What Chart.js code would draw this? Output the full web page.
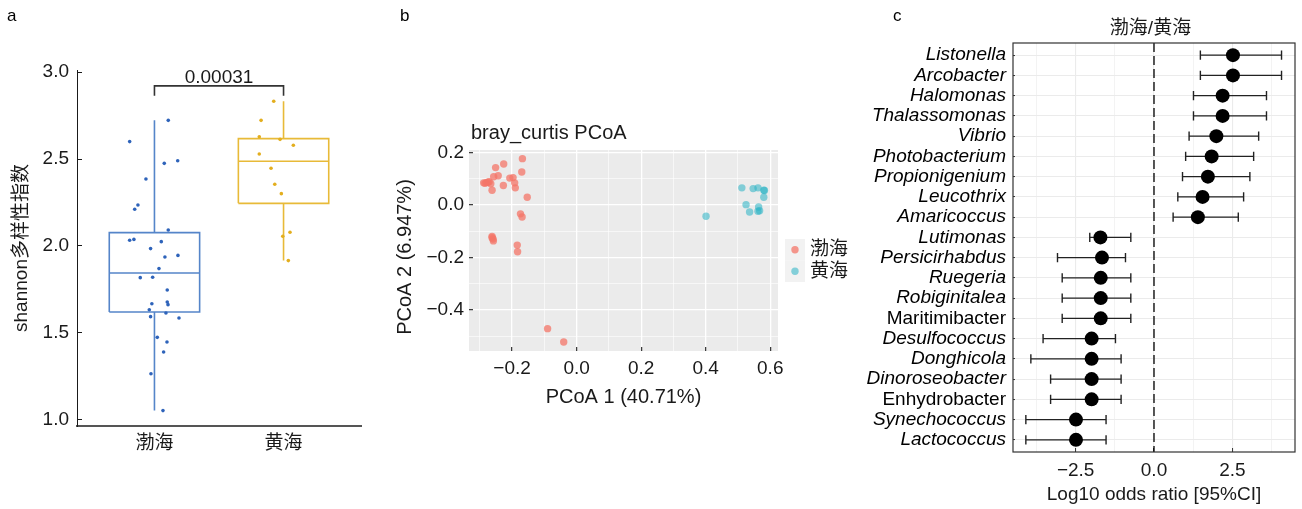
<!DOCTYPE html>
<html><head><meta charset="utf-8">
<script src="https://cdn.jsdelivr.net/npm/chart.js@4/dist/chart.umd.min.js"></script>
<style>
body{margin:0;background:#fff;width:1302px;height:509px;overflow:hidden;position:relative;}
canvas{position:absolute;top:0;}
</style></head><body>
<canvas id="ca" width="380" height="509" style="left:0px"></canvas>
<canvas id="cb" width="470" height="509" style="left:380px"></canvas>
<canvas id="cc" width="452" height="509" style="left:850px"></canvas>
<script>
// ---------- Panel a data ----------
const shannonGroups = ['渤海', '黄海'];
const shannonTicks = [1.0, 1.5, 2.0, 2.5, 3.0];
const bohaiShannon = [2.722,2.600,2.475,2.490,2.385,2.236,2.211,2.092,2.033,2.038,2.025,1.985,1.937,1.946,1.870,1.818,1.820,1.747,1.678,1.663,1.668,1.634,1.594,1.615,1.586,1.475,1.448,1.391,1.266,1.054];
const bohaiJitter = [0.107,-0.192,0.076,0.18,-0.066,-0.128,-0.153,0.107,-0.192,-0.159,0.053,-0.03,0.081,0.182,0.035,-0.11,-0.014,0.099,0.099,0.105,-0.02,-0.04,-0.03,0.089,0.19,0.022,0.097,0.071,-0.027,0.066];
const huanghaiShannon = [2.832,2.722,2.628,2.613,2.579,2.529,2.447,2.355,2.301,2.079,2.056,1.916];
const huanghaiJitter = [-0.076,-0.174,-0.188,-0.027,0.076,-0.188,-0.097,-0.068,-0.017,0.05,-0.006,0.037];
// box stats: [min, q1, median, q3, max]
const bohaiBox = [1.054, 1.621, 1.845, 2.077, 2.722];
const huanghaiBox = [1.916, 2.245, 2.487, 2.617, 2.832];
const pValueLabel = '0.00031';
const bracketY = 2.92, bracketLegY = 2.864;

// ---------- Panel b data ----------
const pcoaGroups = ['渤海', '黄海'];
const pcoaXTicks = [-0.3,-0.2,-0.1,0.0,0.1,0.2,0.3,0.4,0.5,0.6];
const pcoaYTicks = [-0.5,-0.4,-0.3,-0.2,-0.1,0.0,0.1,0.2];
const pcoaBohaiX = [-0.288,-0.280,-0.271,-0.266,-0.262,-0.251,-0.226,-0.243,-0.257,-0.227,-0.207,-0.197,-0.192,-0.190,-0.168,-0.170,-0.153,-0.174,-0.169,-0.262,-0.259,-0.258,-0.184,-0.183,-0.090,-0.040,-0.284,-0.275,-0.262];
const pcoaBohaiY = [0.084,0.085,0.088,0.081,0.056,0.142,0.156,0.111,0.107,0.074,0.102,0.104,0.084,0.065,0.176,0.125,0.029,-0.034,-0.046,-0.120,-0.130,-0.137,-0.153,-0.178,-0.471,-0.522,0.082,0.086,-0.125];
const pcoaHuanghaiX = [0.401,0.512,0.547,0.562,0.580,0.582,0.580,0.525,0.536,0.564,0.562,0.567];
const pcoaHuanghaiY = [-0.043,0.065,0.062,0.065,0.056,0.055,0.029,0.001,-0.027,-0.008,-0.024,-0.022];

// ---------- Panel c data ----------
const genera = ['Listonella','Arcobacter','Halomonas','Thalassomonas','Vibrio','Photobacterium','Propionigenium','Leucothrix','Amaricoccus','Lutimonas','Persicirhabdus','Ruegeria','Robiginitalea','Maritimibacter','Desulfococcus','Donghicola','Dinoroseobacter','Enhydrobacter','Synechococcus','Lactococcus'];
const uprightGenera = ['Maritimibacter', 'Enhydrobacter'];
const logOdds = [2.52,2.52,2.19,2.19,1.99,1.84,1.72,1.55,1.40,-1.71,-1.66,-1.70,-1.70,-1.70,-1.99,-1.99,-1.99,-1.99,-2.49,-2.49];
const ciLow  = [1.48,1.48,1.26,1.26,1.12,1.01,0.91,0.76,0.61,-2.05,-3.08,-2.93,-2.93,-2.93,-3.54,-3.93,-3.30,-3.30,-4.09,-4.09];
const ciHigh = [4.07,4.07,3.59,3.59,3.34,3.18,3.06,2.86,2.69,-0.74,-0.91,-0.74,-0.74,-0.74,-1.23,-1.05,-1.05,-1.05,-1.53,-1.53];
const forestTicks = [-3.75,-2.5,-1.25,0,1.25,2.5,3.75];
const forestTitle = '渤海/黄海';

// ---------- common ----------
const FONT = '"Liberation Sans", Arial, "Noto Sans CJK SC", sans-serif';
Chart.defaults.font.family = FONT;
Chart.defaults.font.size = 19;
Chart.defaults.color = '#1a1a1a';
Chart.defaults.animation = false;
Chart.defaults.plugins.legend.display = false;
Chart.defaults.plugins.tooltip.enabled = false;
const fmtMinus = v => v.toFixed(1).replace('-', '\u2212');

function panelLetter(letter, x) {
  return { id: 'letter' + letter, afterDraw(chart) {
    const ctx = chart.ctx; ctx.save();
    ctx.font = '17px ' + FONT; ctx.fillStyle = '#000'; ctx.textAlign = 'left'; ctx.textBaseline = 'alphabetic';
    ctx.fillText(letter, x, 21); ctx.restore();
  }};
}

// ---------- Panel a ----------
const boxHalf = 0.35;
function boxPath(c, s) {
  return [
    {x:c-boxHalf,y:s[1]},{x:c+boxHalf,y:s[1]},{x:c+boxHalf,y:s[3]},{x:c-boxHalf,y:s[3]},{x:c-boxHalf,y:s[1]},
    {x:c,y:null},
    {x:c-boxHalf,y:s[2]},{x:c+boxHalf,y:s[2]},
    {x:c,y:null},
    {x:c,y:s[3]},{x:c,y:s[4]},
    {x:c,y:null},
    {x:c,y:s[1]},{x:c,y:s[0]}
  ];
}
const pvalPlugin = { id:'pval', afterDatasetsDraw(chart) {
  const {ctx, scales:{x, y}} = chart; ctx.save();
  ctx.font = '19px ' + FONT; ctx.fillStyle = '#1a1a1a'; ctx.textAlign = 'center'; ctx.textBaseline = 'alphabetic';
  ctx.fillText(pValueLabel, x.getPixelForValue(1.5), y.getPixelForValue(bracketY) - 3);
  ctx.restore();
}};
new Chart(document.getElementById('ca'), {
  type: 'scatter',
  data: { datasets: [
    { data: bohaiShannon.map((v,i)=>({x:1+bohaiJitter[i], y:v})), pointRadius:1.8, backgroundColor:'#2E63BA', borderWidth:0 },
    { data: huanghaiShannon.map((v,i)=>({x:2+huanghaiJitter[i], y:v})), pointRadius:1.8, backgroundColor:'#E3AE1E', borderWidth:0 },
    { data: boxPath(1, bohaiBox), showLine:true, spanGaps:false, borderColor:'#5585C9', borderWidth:1.6, pointRadius:0, borderJoinStyle:'miter' },
    { data: boxPath(2, huanghaiBox), showLine:true, spanGaps:false, borderColor:'#E8BA38', borderWidth:1.6, pointRadius:0, borderJoinStyle:'miter' },
    { data: [{x:1,y:bracketLegY},{x:1,y:bracketY},{x:2,y:bracketY},{x:2,y:bracketLegY}], showLine:true, borderColor:'#333', borderWidth:1.6, pointRadius:0 }
  ]},
  options: {
    responsive:false, devicePixelRatio:1,
    layout: { padding: { top:70, right:19, bottom:43, left:0 } },
    scales: {
      x: { type:'linear', min:0.4, max:2.6,
        afterBuildTicks: s => { s.ticks = shannonGroups.map((g,i)=>({value:i+1})); },
        afterFit: s => { s.height = 40; },
        ticks: { callback: v => shannonGroups[Math.round(v)-1], padding:6, color:'#1a1a1a', autoSkip:false },
        grid: { drawOnChartArea:false, drawTicks:false },
        border: { display:true, color:'#555', width:2 } },
      y: { type:'linear', min:0.9655, max:3.0115,
        afterBuildTicks: s => { s.ticks = shannonTicks.map(v=>({value:v})); },
        afterFit: s => { s.width = 77; },
        ticks: { callback: v => v.toFixed(1), padding:13, color:'#1a1a1a', autoSkip:false },
        grid: { drawOnChartArea:false, drawTicks:true, tickLength:-5, tickColor:'#1a1a1a', tickWidth:1 },
        border: { display:true, color:'#1a1a1a', width:1 },
        title: { display:true, text:'shannon多样性指数', padding:{top:10,bottom:0}, color:'#1a1a1a' } }
    }
  },
  plugins: [pvalPlugin, panelLetter('a', 7)]
});

// ---------- Panel b ----------
const isEven10 = v => Math.abs(Math.round(v*10)) % 2 === 0;
const pcoaRed = 'rgba(244,118,104,0.75)', pcoaTeal = 'rgba(40,178,196,0.55)';
const pcoaDeco = { id:'pcoaDeco',
  beforeDraw(chart) {
    const {ctx, chartArea:a} = chart; ctx.save(); ctx.fillStyle = '#EBEBEB';
    ctx.fillRect(a.left, a.top, a.right-a.left, a.bottom-a.top); ctx.restore();
  },
  afterDraw(chart) {
    const {ctx, chartArea:a} = chart; ctx.save();
    ctx.fillStyle = '#1a1a1a';
    ctx.font = '20px ' + FONT; ctx.textAlign = 'left'; ctx.textBaseline = 'alphabetic';
    ctx.fillText('bray_curtis PCoA', a.left + 2, 139);
    ctx.translate(25, 257); ctx.rotate(-Math.PI/2); ctx.textAlign = 'center'; ctx.textBaseline = 'middle';
    ctx.fillText('PCoA 2 (6.947%)', 0, 0);
    ctx.restore();
    // legend
    ctx.save();
    const cols = [pcoaRed, pcoaTeal];
    pcoaGroups.forEach((g,i) => {
      const ky = 239 + i*21.5;
      ctx.fillStyle = '#F2F2F2'; ctx.fillRect(405, ky, 20, 21.5);
      ctx.fillStyle = cols[i]; ctx.beginPath(); ctx.arc(415, ky+10.75, 3.7, 0, Math.PI*2); ctx.fill();
      ctx.fillStyle = '#1a1a1a'; ctx.font = '19px ' + FONT; ctx.textAlign='left'; ctx.textBaseline='middle';
      ctx.fillText(g, 430, ky+11);
    });
    ctx.restore();
  }
};
new Chart(document.getElementById('cb'), {
  type: 'scatter',
  data: { datasets: [
    { label: pcoaGroups[0], data: pcoaBohaiX.map((v,i)=>({x:v, y:pcoaBohaiY[i]})), pointRadius:3.7, backgroundColor:pcoaRed, borderWidth:0 },
    { label: pcoaGroups[1], data: pcoaHuanghaiX.map((v,i)=>({x:v, y:pcoaHuanghaiY[i]})), pointRadius:3.7, backgroundColor:pcoaTeal, borderWidth:0 }
  ]},
  options: {
    responsive:false, devicePixelRatio:1,
    layout: { padding: { top:150, right:72, bottom:100, left:0 } },
    scales: {
      x: { type:'linear', min:-0.3335, max:0.624,
        afterBuildTicks: s => { s.ticks = pcoaXTicks.map(v=>({value:v})); },
        afterFit: s => { s.height = 58; },
        ticks: { callback: v => isEven10(v) ? fmtMinus(v) : '', padding:10, color:'#1a1a1a', autoSkip:false, maxRotation:0 },
        grid: { color:'#fff', lineWidth: c => isEven10(c.tick.value) ? 1.3 : 0.6, tickLength:-4,
                tickColor: c => isEven10(c.tick.value) ? '#333' : 'rgba(0,0,0,0)', tickWidth:1.2 },
        border: { display:false },
        title: { display:true, text:'PCoA 1 (40.71%)', font:{size:20}, padding:{top:0,bottom:0}, color:'#1a1a1a' } },
      y: { type:'linear', min:-0.556, max:0.209,
        afterBuildTicks: s => { s.ticks = pcoaYTicks.map(v=>({value:v})); },
        afterFit: s => { s.width = 89; },
        ticks: { callback: v => isEven10(v) ? fmtMinus(v) : '', padding:9, color:'#1a1a1a', autoSkip:false },
        grid: { color:'#fff', lineWidth: c => isEven10(c.tick.value) ? 1.3 : 0.6, tickLength:-4,
                tickColor: c => isEven10(c.tick.value) ? '#333' : 'rgba(0,0,0,0)', tickWidth:1.2 },
        border: { display:false } }
    }
  },
  plugins: [pcoaDeco, panelLetter('b', 20)]
});

// ---------- Panel c ----------
const capH = 0.23;
const errData = [];
genera.forEach((g,i) => {
  errData.push({x:ciLow[i],y:i},{x:ciHigh[i],y:i},{x:ciHigh[i],y:null},
    {x:ciLow[i],y:i-capH},{x:ciLow[i],y:i+capH},{x:ciLow[i],y:null},
    {x:ciHigh[i],y:i-capH},{x:ciHigh[i],y:i+capH},{x:ciHigh[i],y:null});
});
const isMajor25 = v => Math.abs(v/2.5 - Math.round(v/2.5)) < 1e-6;
const forestDeco = { id:'forestDeco', afterDraw(chart) {
  const {ctx, chartArea:a} = chart; ctx.save();
  ctx.strokeStyle = '#333'; ctx.lineWidth = 1.2;
  ctx.strokeRect(a.left, a.top, a.right-a.left, a.bottom-a.top);
  ctx.fillStyle = '#1a1a1a'; ctx.font = '19px ' + FONT; ctx.textAlign = 'center'; ctx.textBaseline = 'middle';
  ctx.fillText(forestTitle, 300.5, 29);
  ctx.restore();
}};
new Chart(document.getElementById('cc'), {
  type: 'scatter',
  data: { datasets: [
    { data: logOdds.map((v,i)=>({x:v, y:i})), pointRadius:7, backgroundColor:'#000', borderWidth:0 },
    { data: errData, showLine:true, spanGaps:false, borderColor:'#222', borderWidth:1.4, pointRadius:0 },
    { data: [{x:0,y:-0.6},{x:0,y:19.6}], showLine:true, borderColor:'#000', borderWidth:1.3, borderDash:[9,4], pointRadius:0 }
  ]},
  options: {
    responsive:false, devicePixelRatio:1,
    layout: { padding: { top:43, right:5, bottom:3, left:0 } },
    scales: {
      x: { type:'linear', min:-4.5, max:4.5,
        afterBuildTicks: s => { s.ticks = forestTicks.map(v=>({value:v})); },
        afterFit: s => { s.height = 54; },
        ticks: { callback: v => isMajor25(v) ? fmtMinus(v) : '', padding:11, color:'#1a1a1a', autoSkip:false, maxRotation:0 },
        grid: { color:'#EBEBEB', lineWidth: c => isMajor25(c.tick.value) ? 1.1 : 0.6, tickLength:-4,
                tickColor: c => isMajor25(c.tick.value) ? '#333' : 'rgba(0,0,0,0)', tickWidth:1 },
        border: { display:false },
        title: { display:true, text:'Log10 odds ratio [95%CI]', padding:{top:0,bottom:0}, color:'#1a1a1a' } },
      y: { type:'linear', min:-0.6, max:19.6, reverse:true,
        afterBuildTicks: s => { s.ticks = genera.map((g,i)=>({value:i})); },
        afterFit: s => { s.width = 163; },
        ticks: { autoSkip:false, callback: v => genera[Math.round(v)], padding:9, color:'#000',
                 font: c => ({ size:19, style: uprightGenera.includes(genera[c.index]) ? 'normal' : 'italic' }) },
        grid: { color:'#EBEBEB', lineWidth:1.1, tickLength:-2, tickColor:'#333', tickWidth:1 },
        border: { display:false } }
    }
  },
  plugins: [forestDeco, panelLetter('c', 43)]
});
</script>
</body></html>
